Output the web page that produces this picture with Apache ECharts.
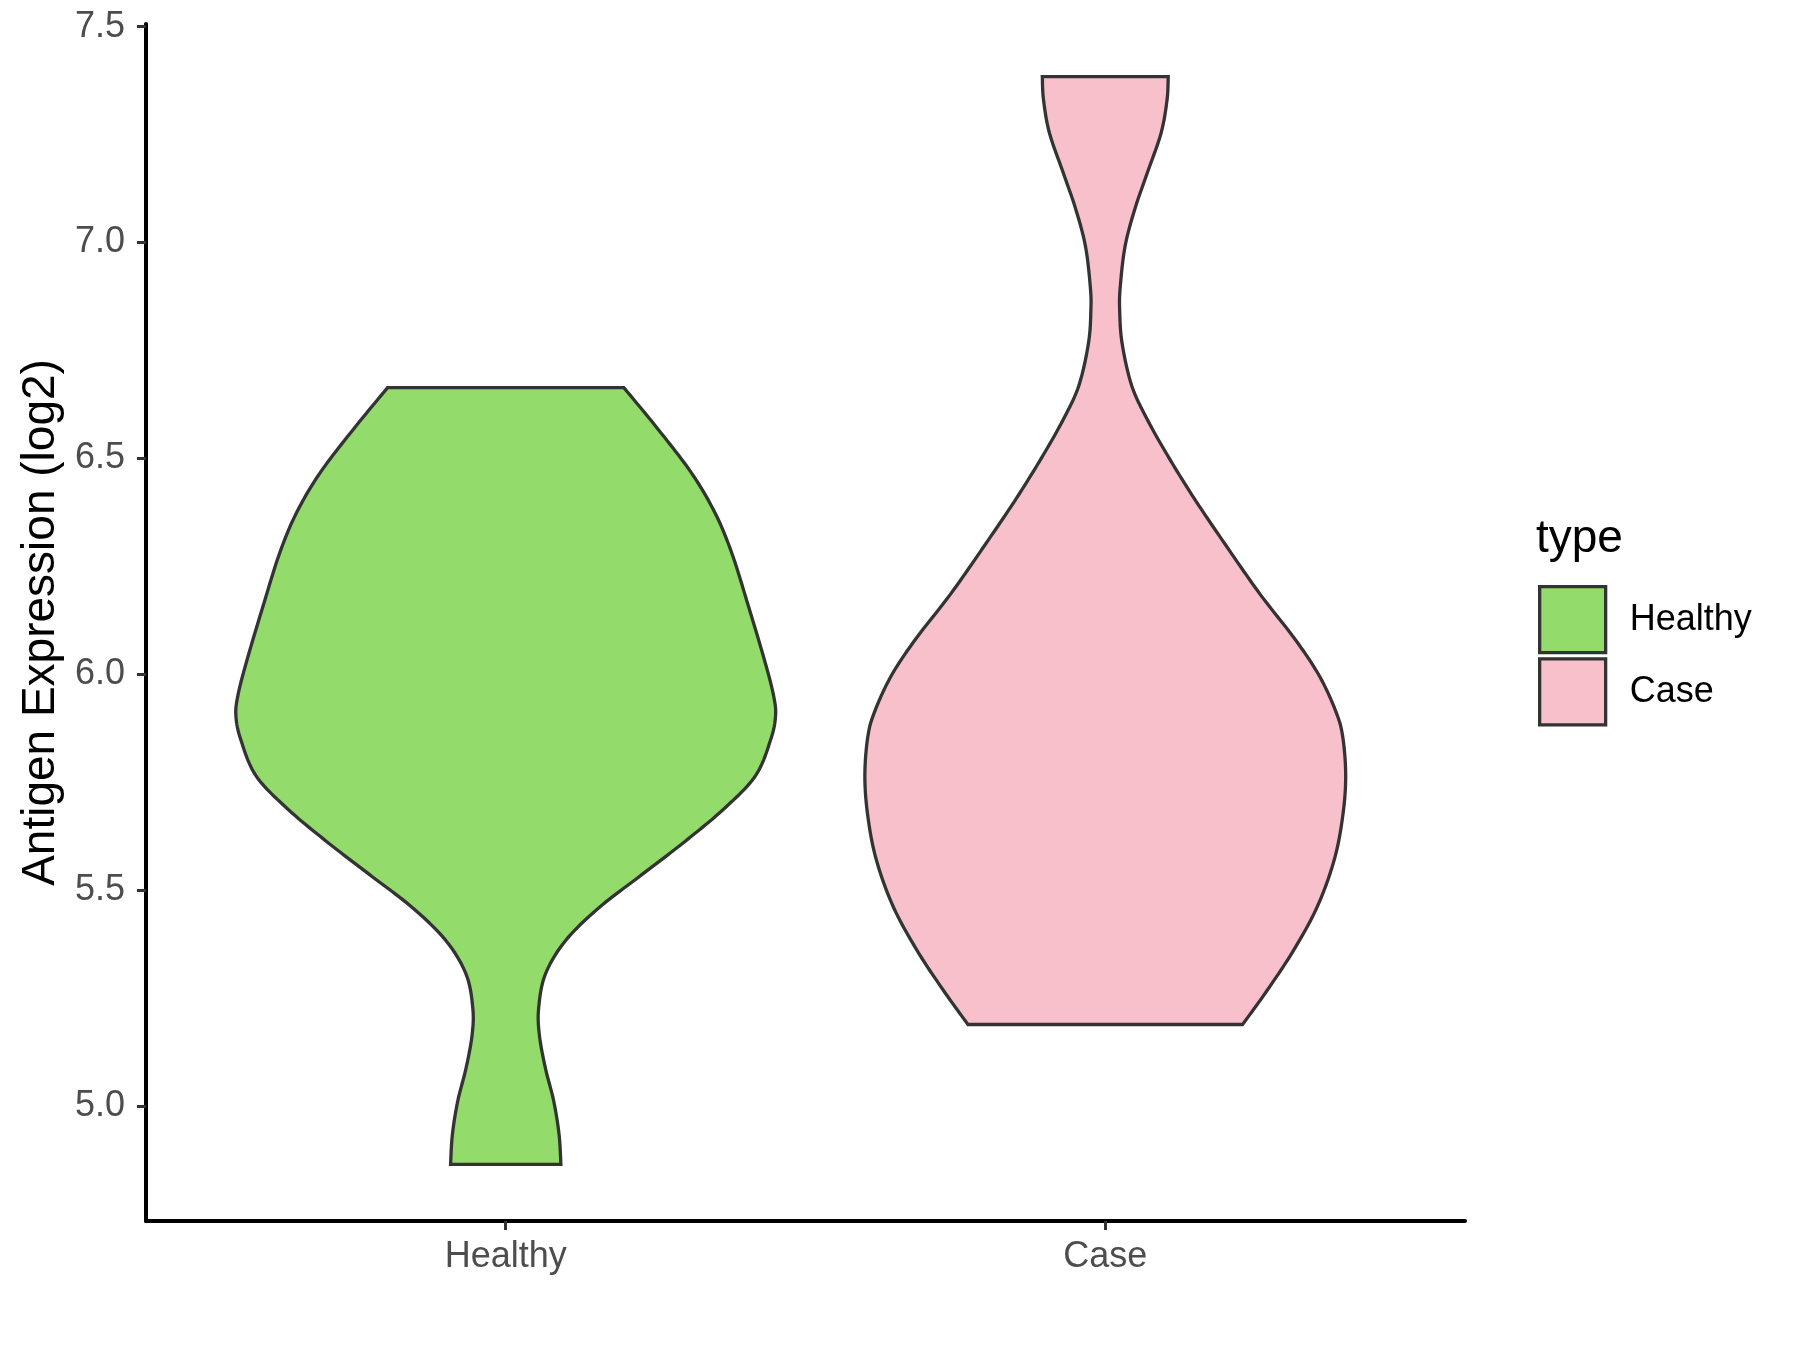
<!DOCTYPE html>
<html>
<head>
<meta charset="utf-8">
<script src="https://cdn.jsdelivr.net/npm/echarts@6/dist/echarts.min.js"></script>
<style>
html,body{margin:0;padding:0;background:#fff;}
#chart{width:1800px;height:1350px;}
</style>
</head>
<body>
<div id="chart"></div>
<script>
// ---- data ----
const categories = ['Healthy', 'Case'];
const yTicks = [5.0, 5.5, 6.0, 6.5, 7.0, 7.5];

// Healthy violin: y values (log2 expression) and half-width (x-axis units)
const healthyY = [4.865, 4.934, 5.012, 5.089, 5.166, 5.228, 5.305, 5.382, 5.459, 5.536, 5.613, 5.691, 5.766, 5.849, 5.903, 5.949, 6.026, 6.157, 6.281, 6.374, 6.466, 6.566, 6.664];
const healthyHalfWidth = [0.092, 0.089, 0.080, 0.066, 0.056, 0.055, 0.066, 0.099, 0.155, 0.227, 0.299, 0.366, 0.417, 0.442, 0.450, 0.447, 0.433, 0.405, 0.377, 0.349, 0.310, 0.255, 0.197];

// Case violin
const caseY = [5.189, 5.270, 5.363, 5.463, 5.571, 5.671, 5.764, 5.856, 5.916, 5.999, 6.084, 6.184, 6.293, 6.408, 6.509, 6.593, 6.669, 6.767, 6.844, 6.898, 6.991, 7.076, 7.161, 7.253, 7.330, 7.384];
const caseHalfWidth = [0.229, 0.271, 0.315, 0.354, 0.382, 0.396, 0.401, 0.396, 0.384, 0.356, 0.315, 0.259, 0.204, 0.148, 0.103, 0.069, 0.044, 0.028, 0.024, 0.025, 0.033, 0.049, 0.070, 0.093, 0.103, 0.105];

const colors = { Healthy: '#93DB6A', Case: '#F7C0CB' };
const outline = '#333333';
const FONT = '"Liberation Sans", Arial, Helvetica, sans-serif';

// Catmull-Rom smoothing of an open pixel polyline (rendering only)
function smoothLine(pts, steps) {
  const out = [];
  const n = pts.length;
  for (let i = 0; i < n - 1; i++) {
    const p0 = pts[Math.max(i - 1, 0)], p1 = pts[i], p2 = pts[i + 1], p3 = pts[Math.min(i + 2, n - 1)];
    for (let s = 0; s < steps; s++) {
      const t = s / steps, t2 = t * t, t3 = t2 * t;
      const f = (a, b, c, d) => 0.5 * ((2 * b) + (-a + c) * t + (2 * a - 5 * b + 4 * c - d) * t2 + (-a + 3 * b - 3 * c + d) * t3);
      out.push([f(p0[0], p1[0], p2[0], p3[0]), f(p0[1], p1[1], p2[1], p3[1])]);
    }
  }
  out.push(pts[n - 1]);
  return out;
}

function violinRenderer(ys, hws, color) {
  return function (params, api) {
    const c = api.value(0);
    const left = ys.map((y, i) => api.coord([c - hws[i], y]));
    const right = ys.map((y, i) => api.coord([c + hws[i], y]));
    const pts = smoothLine(left, 12).concat(smoothLine(right, 12).reverse());
    return {
      type: 'polygon',
      shape: { points: pts },
      style: { fill: color, stroke: outline, lineWidth: 3.3, lineJoin: 'miter' }
    };
  };
}

const chart = echarts.init(document.getElementById('chart'), null, { renderer: 'canvas' });

const option = {
  animation: false,
  backgroundColor: '#ffffff',
  textStyle: { fontFamily: FONT },
  grid: { left: 146, right: 335, top: 24, bottom: 129, containLabel: false },
  xAxis: {
    type: 'value',
    min: 0.4,
    max: 2.6,
    splitLine: { show: false },
    axisLine: { show: true, onZero: false, lineStyle: { color: '#000000', width: 4 } },
    axisTick: { show: true, length: 9, customValues: [1, 2], lineStyle: { color: '#333333', width: 3 } },
    axisLabel: {
      show: true, customValues: [1, 2], margin: 18,
      color: '#4D4D4D', fontSize: 36, fontFamily: FONT,
      formatter: v => categories[Math.round(v) - 1]
    }
  },
  yAxis: {
    type: 'value',
    min: 4.734,
    max: 7.506,
    name: 'Antigen Expression (log2)',
    nameLocation: 'middle',
    nameGap: 78,
    nameRotate: 90,
    nameTextStyle: { color: '#000000', fontSize: 46, fontFamily: FONT },
    splitLine: { show: false },
    axisLine: { show: true, onZero: false, lineStyle: { color: '#000000', width: 4 } },
    axisTick: { show: true, length: 9, customValues: yTicks, lineStyle: { color: '#333333', width: 3 } },
    axisLabel: {
      show: true, customValues: yTicks, margin: 21,
      color: '#4D4D4D', fontSize: 36, fontFamily: FONT,
      formatter: v => v.toFixed(1)
    }
  },
  legend: {
    orient: 'vertical',
    left: 1538,
    top: 585,
    padding: 0,
    itemWidth: 66,
    itemHeight: 66,
    itemGap: 3,
    icon: 'rect',
    textStyle: { color: '#000000', fontSize: 36, fontFamily: FONT, padding: [0, 0, 0, 19] },
    data: categories.map(name => ({
      name: name,
      icon: 'rect',
      itemStyle: { color: colors[name], borderColor: outline, borderWidth: 3.3 }
    }))
  },
  graphic: [{
    type: 'text',
    x: 1536,
    y: 539,
    style: { text: 'type', font: '46px ' + FONT, fill: '#000000', verticalAlign: 'middle', align: 'left' }
  }],
  series: [
    {
      name: 'Healthy',
      type: 'custom',
      itemStyle: { color: colors.Healthy, borderColor: outline, borderWidth: 3.3 },
      renderItem: violinRenderer(healthyY, healthyHalfWidth, colors.Healthy),
      data: [[1]],
      encode: { x: 0 }
    },
    {
      name: 'Case',
      type: 'custom',
      itemStyle: { color: colors.Case, borderColor: outline, borderWidth: 3.3 },
      renderItem: violinRenderer(caseY, caseHalfWidth, colors.Case),
      data: [[2]],
      encode: { x: 0 }
    }
  ]
};

chart.setOption(option);
</script>
</body>
</html>
